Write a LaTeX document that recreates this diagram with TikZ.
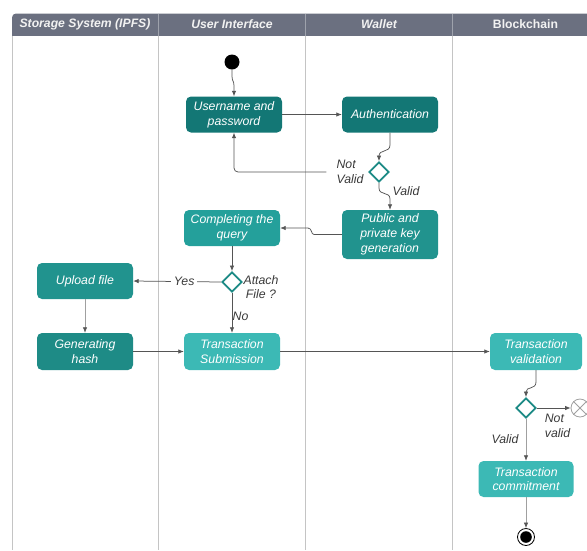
\documentclass[tikz,border=0pt]{standalone}
\usepackage{fontspec}
\setmainfont{Liberation Sans}
\usetikzlibrary{arrows.meta,shapes.geometric,calc}

\definecolor{hdr}{HTML}{6B7080}
\definecolor{hdrline}{HTML}{9EA2AC}
\definecolor{laneline}{HTML}{C4C4C4}
\definecolor{tealdark}{HTML}{137775}
\definecolor{tealmid}{HTML}{21938E}
\definecolor{tealbright}{HTML}{24A09B}
\definecolor{tealdeep}{HTML}{1E8B86}
\definecolor{teallight}{HTML}{3CB9B5}
\definecolor{decision}{HTML}{1C8A85}
\definecolor{wire}{HTML}{555555}
\definecolor{wirelight}{HTML}{A0A0A0}
\definecolor{labeltext}{HTML}{3A3A3A}

\tikzset{
  lane/.style={draw=laneline, line width=1pt},
  lanehead/.style={text=white!95!black, font=\bfseries\itshape\fontsize{12.2}{14}\selectfont},
  act/.style={rounded corners=5pt, text=white, align=center, inner sep=2pt,
    font=\itshape\fontsize{12.3}{14.7}\selectfont,
    minimum width=96pt, minimum height=36pt},
  choice/.style={diamond, draw=decision, fill=white, line width=1.8pt,
    minimum width=20pt, minimum height=20pt, inner sep=0pt},
  flow/.style={draw=wire, line width=0.75pt, -{Latex[length=5.5pt,width=4.5pt]}},
  flowlight/.style={draw=wirelight, line width=0.75pt,
    -{Latex[length=5.5pt,width=4.5pt,color=wire]}},
  tag/.style={text=labeltext, font=\itshape\fontsize{12.3}{14.7}\selectfont, inner sep=0pt}
}

\begin{document}
\begin{tikzpicture}[x=1pt,y=-1pt]
\useasboundingbox (0,0) rectangle (587,550);

% swimlane header band
\begin{scope}
  \clip (0,0) rectangle (587,35.5);
  \fill[hdr, rounded corners=4pt] (12,13.5) rectangle (620,60);
\end{scope}
\foreach \x in {158,305,452} \draw[hdrline, line width=0.8pt] (\x,13.5) -- (\x,35.5);

% swimlane borders
\foreach \x in {12,158,305,452} \draw[lane] (\x,35.5) -- (\x,550);

\node[lanehead] (h1) at (85,24.5) {Storage System (IPFS)};
\node[lanehead] (h2) at (232,24.5) {User Interface};
\node[lanehead] (h3) at (379,24.5) {Wallet};
\node[lanehead, font=\bfseries\fontsize{12.2}{14}\selectfont] (h4) at (525.5,24.5) {Blockchain};

% activities
\node[circle, fill=black, minimum size=15pt, inner sep=0pt] (start) at (232,62) {};
\node[act, fill=tealdark] (user) at (234,114.5) {Username and\\password};
\node[act, fill=tealdark] (auth) at (390,114.5) {Authentication};
\node[choice] (d1) at (379,172) {};
\node[act, fill=tealmid, minimum height=49pt] (keys) at (390,234.5) {Public and\\private key\\generation};
\node[act, fill=tealbright] (query) at (232,228) {Completing the\\query};
\node[choice] (d2) at (232,282) {};
\node[act, fill=tealmid] (upload) at (85,281) {Upload file};
\node[act, fill=tealdeep, minimum height=37pt] (hash) at (85,351.5) {Generating\\hash};
\node[act, fill=teallight, minimum height=37pt] (submit) at (232,351.5) {Transaction\\Submission};
\node[act, fill=teallight, minimum width=92pt, minimum height=37pt] (valid) at (536,351.5) {Transaction\\validation};
\node[choice] (d3) at (526,408) {};
\node[circle, draw=wirelight, fill=white, line width=0.8pt, minimum size=18pt, inner sep=0pt] (reject) at (580,408) {};
\draw[wirelight, line width=0.8pt] (reject.45) -- (reject.225) (reject.135) -- (reject.315);
\node[act, fill=teallight, minimum width=95pt] (commit) at (526,479) {Transaction\\commitment};
\node[circle, draw=black, line width=0.8pt, fill=white, minimum size=17pt, inner sep=0pt,
  path picture={\fill[black] (path picture bounding box.center) circle (5.8pt);}] (finish) at (526,537) {};

% labels
\node[tag, align=left, inner xsep=10pt] (nv1) at (350,172) {Not\\Valid};
\node[tag] (v1) at (406,191) {Valid};
\node[tag, align=center] (attach) at (261,287) {Attach\\File ?};
\node[tag, anchor=west] (no) at (232.5,316) {No};
\node[tag, align=left] (nv2) at (557.5,426) {Not\\valid};
\node[tag] (v2) at (505,439) {Valid};

% control flow
\draw[flow] (start) -- (232,76) .. controls (232,82) and (234,80) .. (234,86) -- (user.north);
\draw[flow] (user) -- (auth);
\draw[flow] (auth.south) -- (390,145) .. controls (390,153) and (379,149) .. (379,156) -- (d1.north);
\draw[flow, rounded corners=4pt] (nv1.west) -| (user.south);
\draw[flow] (d1.south) -- (379,188) .. controls (379,196) and (390,191) .. (390,199) -- (keys.north);
\draw[flow] (keys.west) -- (314,234.5) .. controls (311,234.5) and (312,228) .. (308,228) -- (query.east);
\draw[flow] (query) -- (d2);
\draw[flow] (d2.west) -- node[pos=0.42, fill=white, tag, inner xsep=3pt, inner ysep=2pt] (yes) {Yes} (upload.east);
\draw[flow] (d2.south) -- (submit.north);
\draw[flowlight] (upload) -- (hash);
\draw[flow] (hash) -- (submit);
\draw[flow] (submit) -- (valid);
\draw[flow] (valid.south) -- (536,382) .. controls (536,390) and (526,386) .. (526,392) -- (d3.north);
\draw[flow] (d3.east) -- (reject.west);
\draw[flowlight] (d3.south) -- (commit.north);
\draw[flowlight] (commit) -- (finish);
\end{tikzpicture}
\end{document}
